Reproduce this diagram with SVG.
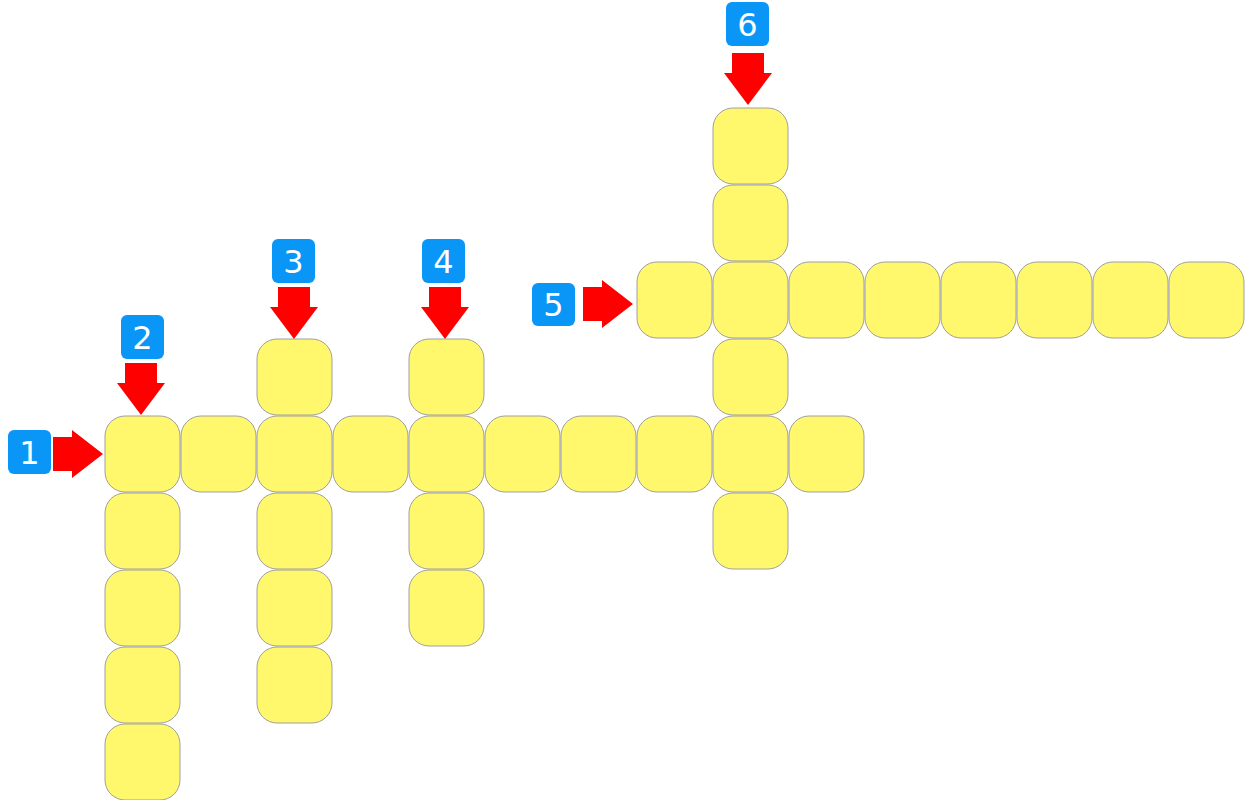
<svg xmlns="http://www.w3.org/2000/svg" width="1259" height="800" viewBox="0 0 1259 800">
<style>
.cell{fill:#fff76c;stroke:#a0a0a0;stroke-width:1}
.lab{fill:#0a96f7}
.num{fill:#ffffff;font-family:"DejaVu Sans",sans-serif;font-size:32px;text-anchor:middle}
.arr{fill:#ff0000}
</style>
<defs>
<rect id="c" width="75" height="76" rx="20" ry="20" class="cell"/>
<path id="ad" d="M-16,0 H16 V20 H24 L0,52 L-24,20 H-16 Z" class="arr"/>
<path id="ar" d="M0,-17 V17 H19 V24 L50,0 L19,-24 V-17 Z" class="arr"/>
</defs>
<rect width="1259" height="800" fill="#ffffff"/>
<g id="cells">
<g id="r0c0"><use href="#c" x="105" y="416"/></g>
<g id="r0c1"><use href="#c" x="181" y="416"/></g>
<g id="r0c2"><use href="#c" x="257" y="416"/></g>
<g id="r0c3"><use href="#c" x="333" y="416"/></g>
<g id="r0c4"><use href="#c" x="409" y="416"/></g>
<g id="r0c5"><use href="#c" x="485" y="416"/></g>
<g id="r0c6"><use href="#c" x="561" y="416"/></g>
<g id="r0c7"><use href="#c" x="637" y="416"/></g>
<g id="r0c8"><use href="#c" x="713" y="416"/></g>
<g id="r0c9"><use href="#c" x="789" y="416"/></g>
<g id="r1c0"><use href="#c" x="105" y="493"/></g>
<g id="r2c0"><use href="#c" x="105" y="570"/></g>
<g id="r3c0"><use href="#c" x="105" y="647"/></g>
<g id="r4c0"><use href="#c" x="105" y="724"/></g>
<g id="rm1c2"><use href="#c" x="257" y="339"/></g>
<g id="r1c2"><use href="#c" x="257" y="493"/></g>
<g id="r2c2"><use href="#c" x="257" y="570"/></g>
<g id="r3c2"><use href="#c" x="257" y="647"/></g>
<g id="rm1c4"><use href="#c" x="409" y="339"/></g>
<g id="r1c4"><use href="#c" x="409" y="493"/></g>
<g id="r2c4"><use href="#c" x="409" y="570"/></g>
<g id="rm2c7"><use href="#c" x="637" y="262"/></g>
<g id="rm2c8"><use href="#c" x="713" y="262"/></g>
<g id="rm2c9"><use href="#c" x="789" y="262"/></g>
<g id="rm2c10"><use href="#c" x="865" y="262"/></g>
<g id="rm2c11"><use href="#c" x="941" y="262"/></g>
<g id="rm2c12"><use href="#c" x="1017" y="262"/></g>
<g id="rm2c13"><use href="#c" x="1093" y="262"/></g>
<g id="rm2c14"><use href="#c" x="1169" y="262"/></g>
<g id="rm4c8"><use href="#c" x="713" y="108"/></g>
<g id="rm3c8"><use href="#c" x="713" y="185"/></g>
<g id="rm1c8"><use href="#c" x="713" y="339"/></g>
<g id="r1c8"><use href="#c" x="713" y="493"/></g>
</g>
<g id="labels">
<g id="label1"><rect class="lab" x="8" y="430" width="43" height="44" rx="6"/><text class="num" x="29.5" y="464">1</text></g>
<g id="label2"><rect class="lab" x="121" y="315" width="43" height="44" rx="6"/><text class="num" x="142.5" y="349">2</text></g>
<g id="label3"><rect class="lab" x="272" y="239" width="43" height="44" rx="6"/><text class="num" x="293.5" y="273">3</text></g>
<g id="label4"><rect class="lab" x="422" y="239" width="43" height="44" rx="6"/><text class="num" x="443.5" y="273">4</text></g>
<g id="label5"><rect class="lab" x="532" y="283" width="43" height="43" rx="6"/><text class="num" x="553.5" y="316">5</text></g>
<g id="label6"><rect class="lab" x="726" y="2" width="43" height="44" rx="6"/><text class="num" x="747.5" y="36">6</text></g>
</g>
<g id="connectors">
<use href="#ar" x="53" y="454"/>
<use href="#ad" x="141" y="363"/>
<use href="#ad" x="294" y="287"/>
<use href="#ad" x="445" y="287"/>
<use href="#ar" x="583" y="304"/>
<use href="#ad" x="748" y="53"/>
</g>
</svg>
